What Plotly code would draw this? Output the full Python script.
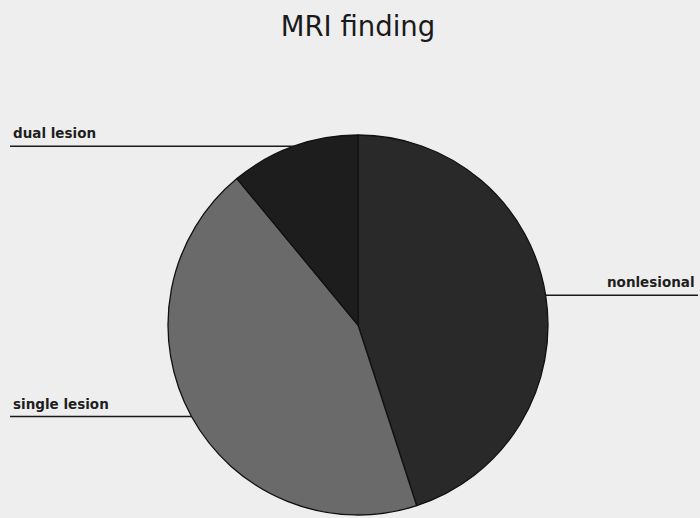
import math
import plotly.graph_objects as go

# MRI finding distribution (percent of patients)
categories = ["nonlesional", "single lesion", "dual lesion"]
values = [45, 44, 11]
colors = ["#292929", "#6a6a6a", "#1d1d1d"]

W, H = 700, 518
cx, cy, r = 358, 325, 190  # pie centre and radius in pixels

fig = go.Figure(go.Pie(
    labels=categories,
    values=values,
    sort=False,
    direction="clockwise",
    rotation=0,
    textinfo="none",
    hoverinfo="label+percent",
    marker=dict(colors=colors, line=dict(color="#111111", width=1.3)),
    domain=dict(x=[(cx - r) / W, (cx + r) / W],
                y=[(H - cy - r) / H, (H - cy + r) / H]),
    showlegend=False,
))

# leader lines from the mid-angle of each slice to the page edge
total = sum(values)
shapes, annotations = [], []
start = 0.0
for name, v in zip(categories, values):
    span = 360.0 * v / total
    mid = math.radians(start + span / 2)
    start += span
    px = cx + r * math.sin(mid)
    py = cy - r * math.cos(mid)
    right = math.sin(mid) > 0
    x_end = 698 if right else 10
    shapes.append(dict(type="line", xref="paper", yref="paper",
                       x0=px / W, x1=x_end / W, y0=1 - py / H, y1=1 - py / H,
                       line=dict(color="#1a1a1a", width=1.6)))
    annotations.append(dict(xref="paper", yref="paper",
                            x=(x_end + (-1 if right else 1)) / W, y=1 - (py - 3) / H,
                            xanchor="right" if right else "left",
                            yanchor="bottom", showarrow=False, text=name,
                            font=dict(family="DejaVu Sans", size=13.5, weight=600,
                                      color="#1e1e1e")))

fig.update_layout(
    width=W, height=H,
    margin=dict(l=0, r=0, t=0, b=0),
    paper_bgcolor="#eeeeee",
    plot_bgcolor="#eeeeee",
    title=dict(text="MRI finding", x=358 / W, xanchor="center",
               y=1 - 26 / H, yanchor="middle",
               font=dict(family="DejaVu Sans", size=27.5, color="#1a1a1a")),
    shapes=shapes,
    annotations=annotations,
)

fig.write_html("out.html")
